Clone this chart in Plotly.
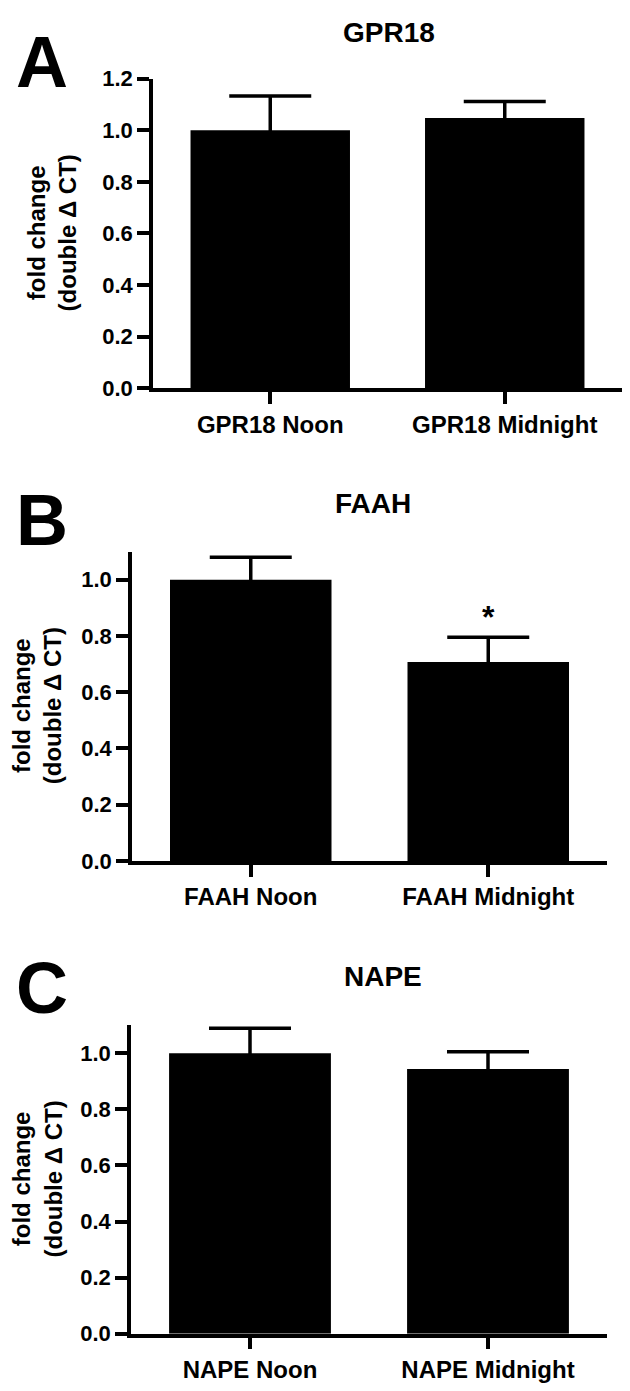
import plotly.graph_objects as go

# panel A - GPR18
gpr18_labels = ["GPR18 Noon", "GPR18 Midnight"]
gpr18_mean = [1.0, 1.048]
gpr18_sem = [0.133, 0.064]

# panel B - FAAH
faah_labels = ["FAAH Noon", "FAAH Midnight"]
faah_mean = [1.0, 0.707]
faah_sem = [0.08, 0.088]
faah_sig = ["", "*"]

# panel C - NAPE
nape_labels = ["NAPE Noon", "NAPE Midnight"]
nape_mean = [1.0, 0.944]
nape_sem = [0.09, 0.062]

y_ticks = [0.0, 0.2, 0.4, 0.6, 0.8, 1.0, 1.2]
y_title = "fold change<br>(double \u0394 CT)"

# the page body has an 8px margin, so the figure is kept inside the window
OFF = 8
W, H = 630 - 2 * OFF, 1391 - 2 * OFF
FONT = "Liberation Sans, Arial, sans-serif"
LW = 3.5


def px(x):
    # page pixel -> paper x
    return (x - OFF) / W


def py(y):
    # page pixel -> paper y
    return min(1.0, 1 - (y - OFF) / H)


panels = [
    # letter, title, labels, mean, sem, ymax, ticks, x-dom(px), y-dom(px), title pos, letter top, ytitle x
    ("A", "GPR18", gpr18_labels, gpr18_mean, gpr18_sem, 1.2, y_ticks,
     (153, 622), (384, 68), (389, 21), 0, 52),
    ("B", "FAAH", faah_labels, faah_mean, faah_sem, 1.1, y_ticks[:6],
     (132, 607), (867, 551), (373, 502), 476, 37),
    ("C", "NAPE", nape_labels, nape_mean, nape_sem, 1.1, y_ticks[:6],
     (131, 607), (1350, 1035), (383, 985), 954, 37),
]

fig = go.Figure()
annotations = []

for i, (letter, title, labels, mean, sem, ymax, ticks, xd, yd, tpos, ltop, ytx) in enumerate(panels):
    n = "" if i == 0 else str(i + 1)
    fig.add_trace(go.Bar(
        x=labels, y=mean, width=0.68, marker=dict(color="black", line=dict(width=0)),
        error_y=dict(type="data", array=sem, color="black", thickness=LW, width=41),
        xaxis="x" + n, yaxis="y" + n, showlegend=False,
    ))
    fig.update_layout(**{
        "xaxis" + n: dict(
            domain=[px(xd[0]), px(xd[1])], anchor="y" + n, range=[-0.5, 1.5],
            showline=True, linecolor="black", linewidth=LW, ticks="outside",
            ticklen=12, tickwidth=LW, tickcolor="black", showgrid=False, zeroline=False,
            tickfont=dict(family=FONT, size=24, color="black", weight="bold"),
        ),
        "yaxis" + n: dict(
            domain=[py(yd[0]), py(yd[1])], anchor="x" + n, range=[0, ymax],
            tickvals=ticks, tickformat=".1f",
            showline=True, linecolor="black", linewidth=LW, ticks="outside",
            ticklen=12, tickwidth=LW, tickcolor="black", showgrid=False, zeroline=False,
            tickfont=dict(family=FONT, size=22, color="black", weight="bold"),
        ),
    })
    # title
    annotations.append(dict(text=title, x=px(tpos[0]), y=py(tpos[1]), xref="paper", yref="paper",
                            showarrow=False, xanchor="center", yanchor="middle",
                            font=dict(family=FONT, size=28, color="black", weight="bold")))
    # panel letter
    annotations.append(dict(text=letter, x=px(14), y=py(ltop), xref="paper", yref="paper",
                            showarrow=False, xanchor="left", yanchor="top",
                            font=dict(family=FONT, size=72, color="black", weight="bold")))
    # y axis title
    annotations.append(dict(text=y_title, x=px(ytx), y=(py(yd[0]) + py(yd[1])) / 2, xref="paper",
                            yref="paper", showarrow=False, textangle=-90, xanchor="center",
                            yanchor="middle",
                            font=dict(family=FONT, size=24, color="black", weight="bold")))

# significance marker above FAAH Midnight
for lab, m, s, sig in zip(faah_labels, faah_mean, faah_sem, faah_sig):
    if sig:
        annotations.append(dict(text=sig, x=lab, y=m + s, xref="x2", yref="y2", showarrow=False,
                                yanchor="bottom", yshift=0,
                                font=dict(family=FONT, size=32, color="black", weight="bold")))

fig.update_layout(
    width=W, height=H, margin=dict(l=0, r=0, t=0, b=0),
    paper_bgcolor="white", plot_bgcolor="white",
    annotations=annotations,
)

fig.write_html("out.html")
